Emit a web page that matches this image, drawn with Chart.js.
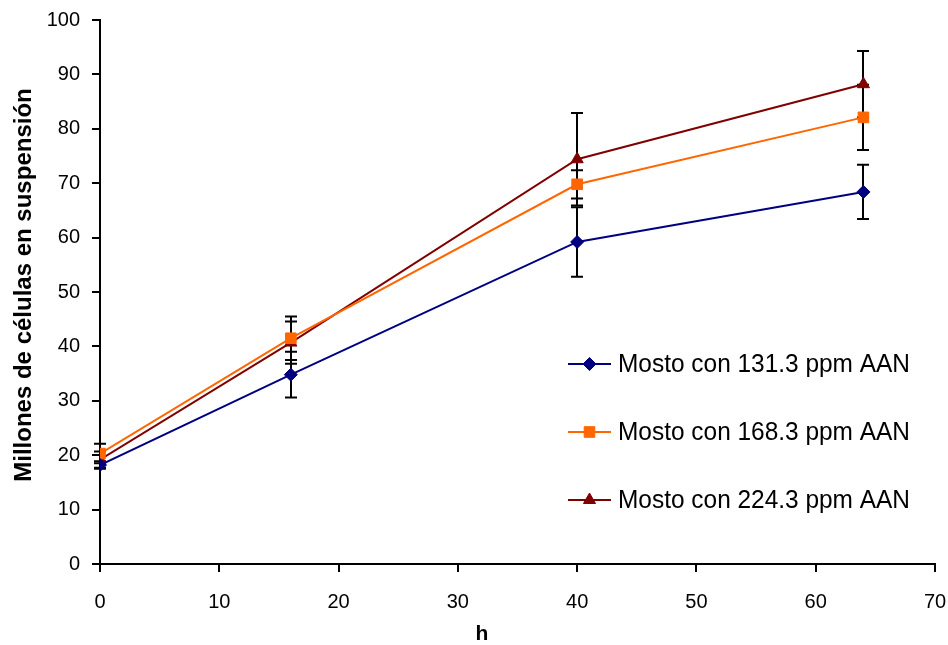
<!DOCTYPE html>
<html><head><meta charset="utf-8">
<script src="https://cdn.jsdelivr.net/npm/chart.js@4/dist/chart.umd.min.js"></script>
<style>html,body{margin:0;padding:0;background:#fff}#wrap{width:948px;height:645px}</style>
</head><body><div id="wrap"><canvas id="c" width="948" height="645"></canvas></div>
<script>
const hours = [0, 16, 40, 64];
const seriesNames = ['Mosto con 131.3 ppm AAN', 'Mosto con 168.3 ppm AAN', 'Mosto con 224.3 ppm AAN'];
const values131 = [18.2, 34.8, 59.2, 68.4];
const errors131 = [0.7, 4.2, 6.4, 5.0];
const values168 = [20.3, 41.5, 69.8, 82.1];
const errors168 = [1.8, 4.0, 2.6, 6.0];
const values224 = [19.2, 40.7, 74.4, 88.2];
const errors224 = [1.5, 3.9, 8.5, 6.1];
const xTitle = 'h';
const yTitle = 'Millones de células en suspensión';

const FONT = "'Liberation Sans', Arial, sans-serif";
const colors = ['#000080', '#FF6600', '#800000'];
const styles = ['rectRot', 'rect', 'triangle'];
const radii = [6.5, 7.5, 7];
const allValues = [values131, values168, values224];
const allErrors = [errors131, errors168, errors224];

const datasets = allValues.map((vals, i) => ({
  label: seriesNames[i],
  data: hours.map((h, j) => ({x: h, y: vals[j]})),
  borderColor: colors[i],
  backgroundColor: colors[i],
  pointBackgroundColor: colors[i],
  pointBorderColor: colors[i],
  pointStyle: styles[i],
  pointRadius: radii[i],
  pointBorderWidth: 1,
  borderWidth: 2,
  tension: 0,
  errors: allErrors[i]
}));

const errorBars = {
  id: 'errorBars',
  beforeDatasetsDraw(chart) {
    const ctx = chart.ctx, xs = chart.scales.x, ys = chart.scales.y;
    ctx.save();
    ctx.strokeStyle = '#000';
    ctx.lineWidth = 2;
    chart.data.datasets.forEach(ds => {
      ds.data.forEach((p, j) => {
        const e = ds.errors[j];
        const px = Math.round(xs.getPixelForValue(p.x));
        const t = ys.getPixelForValue(p.y + e), b = ys.getPixelForValue(p.y - e);
        ctx.beginPath();
        ctx.moveTo(px, t); ctx.lineTo(px, b);
        ctx.moveTo(px - 6, t); ctx.lineTo(px + 6, t);
        ctx.moveTo(px - 6, b); ctx.lineTo(px + 6, b);
        ctx.stroke();
      });
    });
    ctx.restore();
  }
};

const axisTitles = {
  id: 'axisTitles',
  afterDraw(chart) {
    const ctx = chart.ctx;
    ctx.save();
    ctx.fillStyle = '#000';
    ctx.textAlign = 'center';
    ctx.textBaseline = 'middle';
    ctx.font = 'bold 21px ' + FONT;
    ctx.fillText(xTitle, 482, 634);
    ctx.translate(24, 285);
    ctx.rotate(-Math.PI / 2);
    ctx.font = 'bold 24px ' + FONT;
    ctx.fillText(yTitle, 0, 0);
    ctx.restore();
  }
};

const customLegend = {
  id: 'customLegend',
  afterDraw(chart) {
    const ctx = chart.ctx;
    const rows = [364, 432, 500];
    ctx.save();
    chart.data.datasets.forEach((ds, i) => {
      const y = rows[i];
      ctx.strokeStyle = ds.borderColor;
      ctx.lineWidth = 2;
      ctx.beginPath(); ctx.moveTo(568, y); ctx.lineTo(611, y); ctx.stroke();
      ctx.fillStyle = ds.pointBackgroundColor;
      ctx.strokeStyle = ds.pointBorderColor;
      ctx.lineWidth = 1;
      Chart.helpers.drawPoint(ctx, {pointStyle: ds.pointStyle, radius: ds.pointRadius, rotation: 0, borderWidth: 1}, 589.5, y);
      ctx.fillStyle = '#000';
      ctx.font = '25px ' + FONT;
      ctx.textBaseline = 'middle';
      ctx.textAlign = 'left';
      ctx.fillText(ds.label, 618, y + 1, 292);
    });
    ctx.restore();
  }
};

new Chart(document.getElementById('c'), {
  type: 'line',
  data: {datasets},
  plugins: [errorBars, axisTitles, customLegend],
  options: {
    responsive: false,
    animation: false,
    devicePixelRatio: 1,
    layout: {padding: {top: 20, right: 13, left: 0, bottom: 0}},
    plugins: {legend: {display: false}, tooltip: {enabled: false}},
    scales: {
      x: {
        type: 'linear', min: 0, max: 70,
        ticks: {stepSize: 10, color: '#000', font: {family: FONT, size: 20}, padding: 18, maxRotation: 0},
        grid: {display: true, drawOnChartArea: false, drawTicks: true, tickLength: 8, color: '#000', lineWidth: 2},
        border: {display: true, color: '#000', width: 2},
        title: {display: false},
        afterFit(s) { s.height = 81; s.paddingLeft = 0; s.paddingRight = 0; }
      },
      y: {
        type: 'linear', min: 0, max: 100,
        ticks: {stepSize: 10, color: '#000', font: {family: FONT, size: 20}, padding: 12},
        grid: {display: true, drawOnChartArea: false, drawTicks: true, tickLength: 8, color: '#000', lineWidth: 2},
        border: {display: true, color: '#000', width: 2},
        title: {display: false},
        afterFit(s) { s.width = 100; s.paddingTop = 0; s.paddingBottom = 0; }
      }
    }
  }
});
</script></body></html>
